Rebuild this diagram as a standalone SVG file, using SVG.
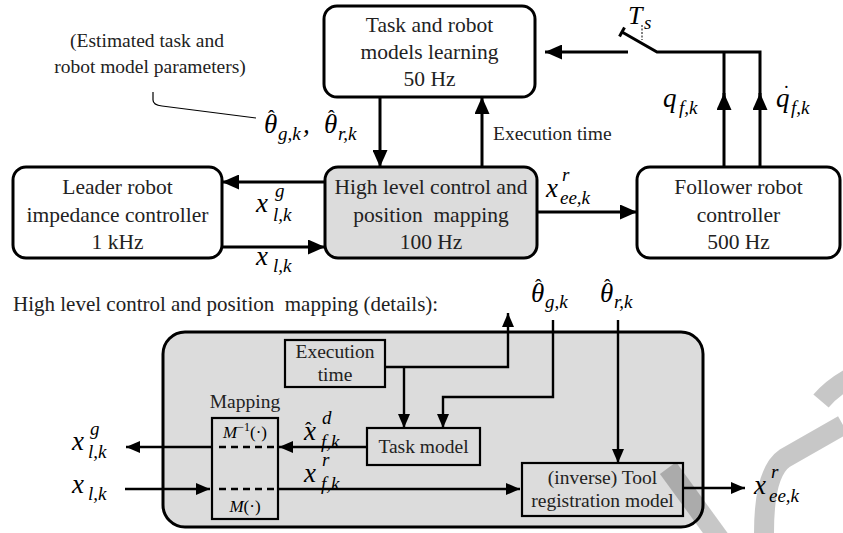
<svg xmlns="http://www.w3.org/2000/svg" width="843" height="533" viewBox="0 0 843 533">
<style>
.box{fill:#fff;stroke:#000;stroke-width:3}
.gbox{fill:#dcdcdc;stroke:#000;stroke-width:3}
.ibox{fill:#dcdcdc;stroke:#000;stroke-width:2.2}
.ln{fill:none;stroke:#000;stroke-width:3}
.ln2{fill:none;stroke:#000;stroke-width:2.4}
.dash{fill:none;stroke:#000;stroke-width:2.4;stroke-dasharray:7 5}
.t{font-size:21.5px;fill:#222;text-anchor:middle}
.ts{font-size:19.5px;fill:#222;text-anchor:middle}
.tl{font-size:21px;fill:#222;white-space:pre}
.m{font-style:italic;font-size:27px;fill:#000}
.s{font-size:19px}
.h{font-style:normal;font-size:20px}
.cal{font-size:17px;fill:#000;text-anchor:middle;font-style:italic}
.wm{fill:none;stroke:#000;stroke-opacity:0.22;stroke-width:20}
</style>
<defs>
<marker id="ah" markerUnits="userSpaceOnUse" markerWidth="17" markerHeight="15" refX="17" refY="7.5" orient="auto"><path d="M0,0 L17,7.5 L0,15 z" fill="#000"/></marker>
<marker id="ahs" markerUnits="userSpaceOnUse" markerWidth="14" markerHeight="12" refX="14" refY="6" orient="auto"><path d="M0,0 L14,6 L0,12 z" fill="#000"/></marker>
</defs>

<!-- top nodes -->
<g id="learning">
<rect class="box" x="324" y="6" width="211" height="91" rx="13"/>
<text font-family="Liberation Serif" class="t" x="429.5" y="32">Task and robot</text>
<text font-family="Liberation Serif" class="t" x="429.5" y="59">models learning</text>
<text font-family="Liberation Serif" class="t" x="429.5" y="86">50 Hz</text>
</g>
<g id="leader">
<rect class="box" x="13" y="167" width="209" height="91" rx="13"/>
<text font-family="Liberation Serif" class="t" x="117.5" y="194">Leader robot</text>
<text font-family="Liberation Serif" class="t" x="117.5" y="222">impedance controller</text>
<text font-family="Liberation Serif" class="t" x="117.5" y="249">1 kHz</text>
</g>
<g id="highlevel">
<rect class="gbox" x="325" y="167" width="212" height="91" rx="13"/>
<text font-family="Liberation Serif" class="t" x="431" y="194">High level control and</text>
<text font-family="Liberation Serif" class="t" x="431" y="222" style="white-space:pre">position  mapping</text>
<text font-family="Liberation Serif" class="t" x="431" y="249">100 Hz</text>
</g>
<g id="follower">
<rect class="box" x="637" y="167" width="203" height="91" rx="13"/>
<text font-family="Liberation Serif" class="t" x="738.5" y="194">Follower robot</text>
<text font-family="Liberation Serif" class="t" x="738.5" y="222">controller</text>
<text font-family="Liberation Serif" class="t" x="738.5" y="249">500 Hz</text>
</g>
<g id="callout">
<text font-family="Liberation Serif" class="ts" x="147" y="47">(Estimated task and</text>
<text font-family="Liberation Serif" class="ts" x="150" y="73">robot model parameters)</text>
<path d="M153,92 L153,100 Q153,105 162,106 L256,118" fill="none" stroke="#000" stroke-width="1.2"/>
</g>

<!-- top connectors -->
<g id="connectors-top">
<path class="ln" d="M380,97 L380,167" marker-end="url(#ah)"/>
<path class="ln" d="M482,167 L482,97" marker-end="url(#ah)"/>
<path class="ln" d="M325,182 L222,182" marker-end="url(#ah)"/>
<path class="ln" d="M222,247 L325,247" marker-end="url(#ah)"/>
<path class="ln" d="M537,212 L637,212" marker-end="url(#ah)"/>
<path class="ln" d="M724,167 L724,52"/>
<path class="ln" d="M760,167 L760,52 L657,52 L622,32"/>
<path class="ln" d="M760,100 L760,93" marker-end="url(#ah)"/>
<path class="ln" d="M724,100 L724,93" marker-end="url(#ah)"/>
<path class="ln" d="M619.5,36.5 L624.5,27.5"/>
<path class="ln" d="M628,52 L545,52" marker-end="url(#ah)"/>
<path d="M642,25 L642,40" fill="none" stroke="#000" stroke-width="1" stroke-dasharray="2 1.5"/>
</g>

<!-- top labels -->
<g id="labels-top">
<text font-family="Liberation Serif" class="ts" x="493" y="140" style="text-anchor:start">Execution time</text>
<text font-family="Liberation Serif" class="m"><tspan x="256" y="212">x</tspan><tspan class="s" x="275" y="197">g</tspan><tspan class="s" x="273" y="221">l,k</tspan></text>
<text font-family="Liberation Serif" class="m"><tspan x="256" y="265">x</tspan><tspan class="s" x="273" y="272">l,k</tspan></text>
<text font-family="Liberation Serif" class="m"><tspan x="546" y="197">x</tspan><tspan class="s" x="562" y="181">r</tspan><tspan class="s" x="560" y="204">ee,k</tspan></text>
<text font-family="Liberation Serif" class="m"><tspan x="264" y="133">θ</tspan><tspan class="h" x="268" y="125">ˆ</tspan><tspan class="s" x="278" y="140">g,k</tspan><tspan x="303" y="133">,</tspan><tspan x="324" y="133">θ</tspan><tspan class="h" x="328" y="125">ˆ</tspan><tspan class="s" x="338" y="140">r,k</tspan></text>
<text font-family="Liberation Serif" class="m"><tspan x="628" y="24" font-size="26">T</tspan><tspan class="s" x="644" y="29">s</tspan></text>
<text font-family="Liberation Serif" class="m"><tspan x="663" y="107">q</tspan><tspan class="s" x="679" y="114">f,k</tspan></text>
<text font-family="Liberation Serif" class="m"><tspan x="776" y="107">q</tspan><tspan class="h" x="783" y="100">˙</tspan><tspan class="s" x="791" y="114">f,k</tspan></text>
</g>

<!-- bottom -->
<text font-family="Liberation Serif" class="tl" x="13" y="311">High level control and position  mapping (details):</text>
<g id="details">
<rect class="gbox" x="163" y="332" width="540" height="195" rx="22"/>
</g>
<g id="exectime">
<rect class="ibox" x="285" y="340" width="100" height="47"/>
<text font-family="Liberation Serif" class="ts" x="335" y="358">Execution</text>
<text font-family="Liberation Serif" class="ts" x="335" y="381">time</text>
</g>
<g id="mapping">
<text font-family="Liberation Serif" class="ts" x="245" y="408">Mapping</text>
<rect class="ibox" x="212" y="418" width="66" height="101"/>
<text font-family="Liberation Serif" class="cal" x="245" y="438">M<tspan font-size="12" font-style="normal" dy="-7">−1</tspan><tspan font-style="normal" dy="7">(·)</tspan></text>
<text font-family="Liberation Serif" class="cal" x="245" y="512">M<tspan font-style="normal">(·)</tspan></text>
</g>
<g id="taskmodel">
<rect class="ibox" x="367" y="428" width="113" height="37"/>
<text font-family="Liberation Serif" class="ts" x="423.5" y="453">Task model</text>
</g>
<g id="toolreg">
<rect class="ibox" x="522" y="463" width="161" height="53"/>
<text font-family="Liberation Serif" class="ts" x="602.5" y="484">(inverse) Tool</text>
<text font-family="Liberation Serif" class="ts" x="602.5" y="507">registration model</text>
</g>

<g id="connectors-bottom">
<path class="ln2" d="M385,367 L508,367 L508,313" marker-end="url(#ahs)"/>
<path class="ln2" d="M404,367 L404,428" marker-end="url(#ahs)"/>
<path class="ln2" d="M553,320 L553,397 L443,397 L443,428" marker-end="url(#ahs)"/>
<path class="ln2" d="M618,320 L618,463" marker-end="url(#ahs)"/>
<path class="ln2" d="M367,447 L279,447" marker-end="url(#ahs)"/>
<path class="dash" d="M219,447 L278,447"/>
<path class="ln2" d="M212,447 L126,447" marker-end="url(#ahs)"/>
<path class="ln2" d="M125,489 L210,489" marker-end="url(#ahs)"/>
<path class="dash" d="M219,489 L278,489"/>
<path class="ln2" d="M278,489 L520,489" marker-end="url(#ahs)"/>
<path class="ln2" d="M683,488 L745,488" marker-end="url(#ahs)"/>
</g>

<g id="labels-bottom">
<text font-family="Liberation Serif" class="m"><tspan x="531" y="302">θ</tspan><tspan class="h" x="535" y="294">ˆ</tspan><tspan class="s" x="545" y="308">g,k</tspan></text>
<text font-family="Liberation Serif" class="m"><tspan x="600" y="302">θ</tspan><tspan class="h" x="604" y="294">ˆ</tspan><tspan class="s" x="614" y="308">r,k</tspan></text>
<text font-family="Liberation Serif" class="m"><tspan x="304" y="440">x</tspan><tspan class="h" x="305" y="437">ˆ</tspan><tspan class="s" x="322" y="424">d</tspan><tspan class="s" x="321" y="448">f,k</tspan></text>
<text font-family="Liberation Serif" class="m"><tspan x="304" y="482">x</tspan><tspan class="s" x="322" y="466">r</tspan><tspan class="s" x="321" y="490">f,k</tspan></text>
<text font-family="Liberation Serif" class="m"><tspan x="72" y="450">x</tspan><tspan class="s" x="90" y="435">g</tspan><tspan class="s" x="88" y="458">l,k</tspan></text>
<text font-family="Liberation Serif" class="m"><tspan x="72" y="493">x</tspan><tspan class="s" x="88" y="500">l,k</tspan></text>
<text font-family="Liberation Serif" class="m"><tspan x="754" y="494">x</tspan><tspan class="s" x="771" y="478">r</tspan><tspan class="s" x="769" y="502">ee,k</tspan></text>
</g>

<!-- watermark -->
<path class="wm" d="M668,468 L724,545"/>
<path class="wm" d="M843,425 L785,458 Q764,472 764,533"/>
<path class="wm" d="M821,401 Q832,388 850,378"/>
</svg>
